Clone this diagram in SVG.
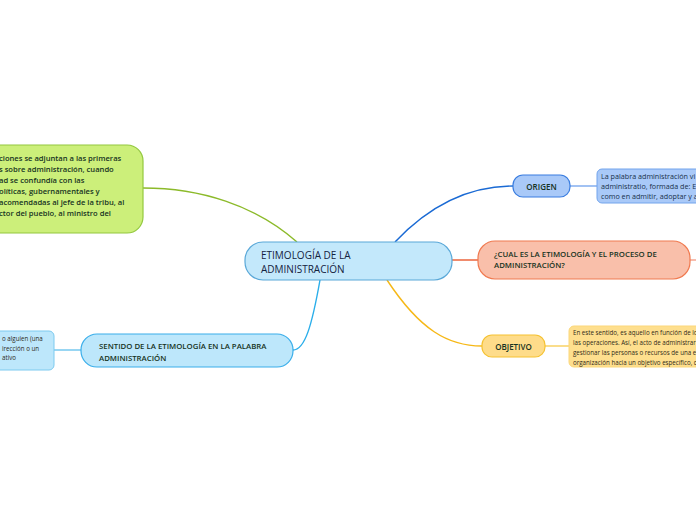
<svg xmlns="http://www.w3.org/2000/svg" width="696" height="520" viewBox="0 0 696 520">
<style>
text{font-family:"Open Sans","Noto Sans","DejaVu Sans",sans-serif;}
.t1{font-size:10px;fill:#14233f;}
.t2{font-size:7.8px;fill:#163322;font-weight:600;}
.t3{font-size:7.2px;fill:#17304a;}
.t4{font-size:6.2px;fill:#2f2a18;}
.c{fill:none;stroke-width:1.4;}
</style>
<rect width="696" height="520" fill="#ffffff"/>
<g id="connectors">
<path class="c" d="M297,242 C255,205 200,188 143,188" stroke="#8cba2a"/>
<path class="c" d="M395,242 C430,205 470,186 513,186" stroke="#1a6ad4"/>
<path class="c" d="M452,260 L478,260" stroke="#ea5a2e"/>
<path class="c" d="M387,280 C420,330 448,346 482,346" stroke="#f6b817"/>
<path class="c" d="M320,280 C312,325 305,350 293,350" stroke="#2aaeea"/>
<path class="c" d="M570,186 L597,186" stroke="#7aa8ee" stroke-width="1"/>
<path class="c" d="M545,346 L569,346" stroke="#f8cf5a" stroke-width="1"/>
<path class="c" d="M54,350 L81,350" stroke="#6cc4ee" stroke-width="1"/>
<path class="c" d="M690,260 L696,260" stroke="#f4a08a" stroke-width="1"/>
</g>
<g id="central">
<rect x="245" y="242" width="207" height="38" rx="18" fill="#c3e8fb" stroke="#5aa8d8" stroke-width="1.2"/>
<text class="t1" x="261" y="259">ETIMOLOGÍA DE LA</text>
<text class="t1" x="261" y="273">ADMINISTRACIÓN</text>
</g>
<g id="green">
<rect x="-20" y="145" width="163" height="88" rx="16" fill="#ccef7a" stroke="#93c83e" stroke-width="1.2"/>
<text class="t2" x="-1" y="161" style="font-size:7.6px">ciones se adjuntan a las primeras</text>
<text class="t2" x="-1" y="172" style="font-size:7.6px">s sobre administración, cuando</text>
<text class="t2" x="-1" y="183" style="font-size:7.6px">ad se confundía con las</text>
<text class="t2" x="-1" y="194" style="font-size:7.6px">olíticas, gubernamentales y</text>
<text class="t2" x="-1" y="205" style="font-size:7.6px">acomendadas al jefe de la tribu, al</text>
<text class="t2" x="-1" y="216" style="font-size:7.6px">ctor del pueblo, al ministro del</text>
</g>
<g id="origen">
<rect x="513" y="175" width="57" height="22" rx="10" fill="#a9c9f8" stroke="#3a7de0" stroke-width="1.2"/>
<text class="t2" x="541.5" y="189.5" text-anchor="middle" style="font-size:8px">ORIGEN</text>
</g>
<g id="origen-desc">
<rect x="597" y="169" width="120" height="34" rx="5" fill="#a9c9f8" stroke="#72a4ec" stroke-width="1"/>
<text class="t3" x="601" y="179">La palabra administración vi</text>
<text class="t3" x="601" y="189">administratio, formada de: E</text>
<text class="t3" x="601" y="199">como en admitir, adoptar y a</text>
</g>
<g id="cual">
<rect x="478" y="241" width="212" height="38" rx="17" fill="#f9bfaa" stroke="#f07a50" stroke-width="1.2"/>
<text class="t2" x="494" y="257">¿CUAL ES LA ETIMOLOGÍA Y EL PROCESO DE</text>
<text class="t2" x="494" y="268">ADMINISTRACIÓN?</text>
</g>
<g id="objetivo">
<rect x="482" y="335" width="63" height="22" rx="10" fill="#fedc8a" stroke="#f5c232" stroke-width="1.2"/>
<text class="t2" x="513.5" y="349.5" text-anchor="middle" style="font-size:8px">OBJETIVO</text>
</g>
<g id="objetivo-desc">
<rect x="569" y="326" width="140" height="41" rx="5" fill="#fedf8e" stroke="#fbd77a" stroke-width="1"/>
<text class="t4" x="573" y="335">En este sentido, es aquello en función de lo</text>
<text class="t4" x="573" y="345">las operaciones. Así, el acto de administrar</text>
<text class="t4" x="573" y="355">gestionar las personas o recursos de una e</text>
<text class="t4" x="573" y="365">organización hacia un objetivo específico, q</text>
</g>
<g id="sentido">
<rect x="81" y="334" width="212" height="33" rx="16" fill="#bde7fb" stroke="#3aaeea" stroke-width="1.2"/>
<text class="t2" x="99" y="349">SENTIDO DE LA ETIMOLOGÍA EN LA PALABRA</text>
<text class="t2" x="99" y="361">ADMINISTRACIÓN</text>
</g>
<g id="sentido-desc">
<rect x="-20" y="331" width="74" height="39" rx="5" fill="#bde7fb" stroke="#7ccaef" stroke-width="1"/>
<text class="t4" x="2" y="341">o alguien (una</text>
<text class="t4" x="2" y="350.5">irección o un</text>
<text class="t4" x="2" y="360">ativo</text>
</g>
</svg>
